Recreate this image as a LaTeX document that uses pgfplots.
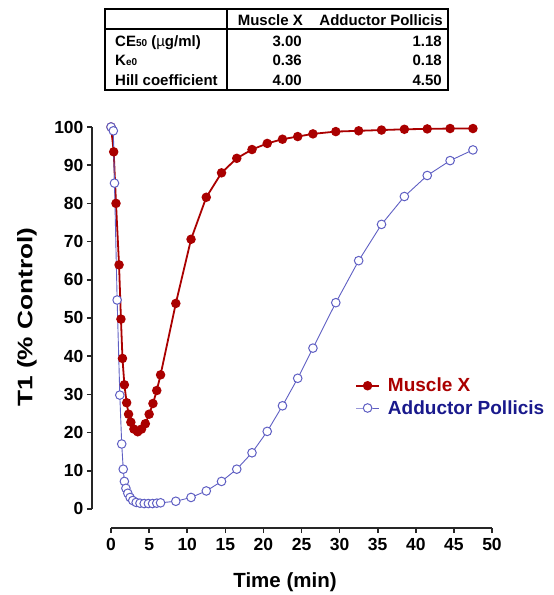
\documentclass[border=0pt]{standalone}
\usepackage{fontspec}
\setmainfont{Liberation Sans}
\usepackage{pgfplots}
\pgfplotsset{compat=1.18}
\definecolor{mred}{RGB}{170,0,0}
\definecolor{mblue}{RGB}{95,95,195}
\definecolor{tblue}{RGB}{25,25,140}
\begin{document}
\begin{tikzpicture}
\useasboundingbox (-92pt,-67pt) rectangle (462pt,528pt);
\begin{axis}[at={(0,0)}, anchor=south west,
  scale only axis, width=400pt, height=401pt,
  xmin=-2.5, xmax=50, ymin=-5, ymax=100, clip=false,
  axis x line*=bottom, axis y line*=left,
  x axis line style={draw=none}, y axis line style={draw=none},
  xtick={0,5,...,50}, ytick={0,10,...,100},
  tick align=outside, major tick length=5pt,
  tick style={line width=1.6pt, black!85},
  /pgf/number format/assume math mode=true,
  ticklabel style={font=\fontsize{17.5}{17.5}\selectfont\bfseries},
  xticklabel shift=2pt,
  xlabel={Time (min)},
  xlabel style={at={(axis description cs:0.4825,-0.135)}, anchor=center,
    font=\fontsize{20.5}{20.5}\selectfont\bfseries},
  ylabel={\scalebox{1.25}[1]{T1 (\% Control)}},
  ylabel style={at={(axis description cs:-0.1625,0.526)}, anchor=center, rotate=0,
    font=\fontsize{21}{21}\selectfont\bfseries},
  legend cell align=left,
  legend style={draw=none, fill=none, at={(axis description cs:0.65,0.327)},
    anchor=west, font=\fontsize{19}{19}\selectfont\bfseries, row sep=3pt,
    /tikz/every odd column/.append style={column sep=6pt}},
  legend image code/.code={\draw[mark repeat=2,mark phase=2,#1] plot coordinates {(0pt,0pt) (11.5pt,0pt) (23pt,0pt)};},
]
\addplot[color=mred, line width=1.8pt, mark=*, mark size=3.8pt,
  mark options={fill=mred, solid}] coordinates {
(0,100) (0.35,93.5) (0.65,80.0) (1.05,63.9) (1.3,49.7) (1.5,39.4) (1.75,32.5)
(2.05,27.8) (2.3,24.8) (2.6,22.7) (3.0,20.9) (3.5,20.2) (4.0,20.9) (4.5,22.3)
(5.0,24.8) (5.5,27.6) (6.0,31.0) (6.5,35.1) (8.5,53.8) (10.5,70.6) (12.5,81.6)
(14.5,88.0) (16.5,91.8) (18.5,94.1) (20.5,95.7) (22.5,96.8) (24.5,97.5)
(26.5,98.2) (29.5,98.8) (32.5,99.0) (35.5,99.2) (38.5,99.4) (41.5,99.5)
(44.5,99.6) (47.5,99.6)};
\addlegendentry{\textcolor{mred}{Muscle X}}
\addplot[color=mblue, line width=0.9pt, mark=*, mark size=4.3pt,
  mark options={fill=white, draw=mblue, line width=1pt, solid}] coordinates {
(0,100) (0.3,99) (0.45,85.3) (0.8,54.7) (1.15,29.8) (1.4,17.0) (1.6,10.4)
(1.75,7.2) (1.95,5.4) (2.2,4.1) (2.5,3.0) (2.85,2.2) (3.3,1.7) (3.8,1.5)
(4.35,1.4) (4.9,1.4) (5.45,1.4) (6.0,1.5) (6.5,1.6) (8.5,2.0) (10.5,3.0)
(12.5,4.7) (14.5,7.2) (16.5,10.4) (18.5,14.7) (20.5,20.3) (22.5,27.0)
(24.5,34.2) (26.5,42.1) (29.5,54.0) (32.5,65.0) (35.5,74.5) (38.5,81.8)
(41.5,87.3) (44.5,91.2) (47.5,94.0)};
\addlegendentry{\textcolor{tblue}{Adductor Pollicis}}
\draw[line width=1.6pt, black!85] (axis cs:0,-5) -- (axis cs:50,-5);
\draw[line width=1.6pt, black!85] (axis cs:-2.5,0) -- (axis cs:-2.5,100);
\end{axis}
% parameter table
\begin{scope}[font=\fontsize{15}{15}\selectfont\bfseries]
\draw[line width=1.3pt] (13pt,438pt) rectangle (356pt,519pt);
\draw[line width=1.2pt] (135pt,438pt) -- (135pt,519pt);
\draw[line width=1.2pt] (13pt,499pt) -- (356pt,499pt);
\node[anchor=base east, inner sep=0pt] at (211pt,502pt) {Muscle X};
\node[anchor=base east, inner sep=0pt] at (351pt,502pt) {Adductor Pollicis};
\node[anchor=base west, inner sep=0pt] at (23pt,481.5pt) {CE{\fontsize{10}{10}\selectfont 50} ({\mdseries µ}g/ml)};
\node[anchor=base west, inner sep=0pt] at (23pt,462pt) {K{\fontsize{10}{10}\selectfont e0}};
\node[anchor=base west, inner sep=0pt] at (23pt,442pt) {Hill coefficient};
\node[anchor=base east, inner sep=0pt] at (210pt,481.5pt) {3.00};
\node[anchor=base east, inner sep=0pt] at (350pt,481.5pt) {1.18};
\node[anchor=base east, inner sep=0pt] at (210pt,462pt) {0.36};
\node[anchor=base east, inner sep=0pt] at (350pt,462pt) {0.18};
\node[anchor=base east, inner sep=0pt] at (210pt,442pt) {4.00};
\node[anchor=base east, inner sep=0pt] at (350pt,442pt) {4.50};
\end{scope}
\end{tikzpicture}
\end{document}
